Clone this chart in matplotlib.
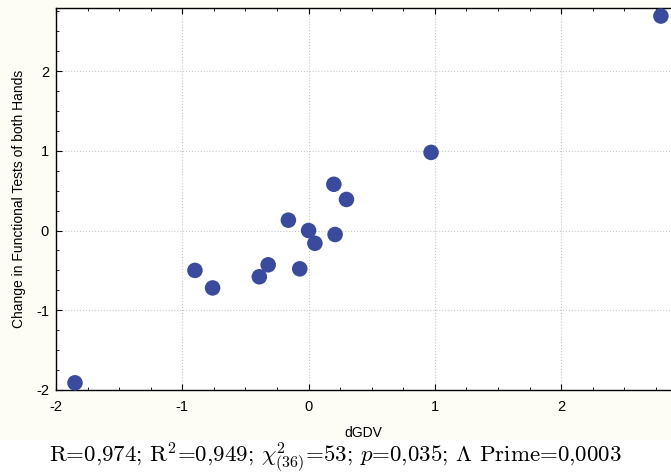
import matplotlib.pyplot as plt
from matplotlib.ticker import MultipleLocator
from matplotlib.patches import Rectangle

# data
dgdv = [2.79, 0.97, 0.20, 0.30, -0.16, 0.00, 0.05, 0.21, -0.90, -0.76, -0.39, -0.32, -0.07, -1.85]
change = [2.69, 0.98, 0.58, 0.39, 0.13, 0.00, -0.16, -0.05, -0.50, -0.72, -0.58, -0.43, -0.48, -1.91]

caption = r'R=0,974; R$^{\mathregular{2}}$=0,949; $\chi^{2}_{(36)}$=53; $p$=0,035; $\Lambda$ Prime=0,0003'

plt.rcParams['font.family'] = 'Liberation Sans'
plt.rcParams['mathtext.fontset'] = 'cm'
plt.rcParams['axes.unicode_minus'] = False

fig = plt.figure(figsize=(6.71, 4.76), dpi=100)
fig.patch.set_facecolor('white')
# cream panel behind the chart
fig.patches.append(Rectangle((0, 0.0756), 1, 1 - 0.0756, transform=fig.transFigure,
                             facecolor='#fdfcf5', edgecolor='none', zorder=-5))

ax = fig.add_axes([0.0835, 0.1807, 0.9165, 0.8023])
ax.set_facecolor('white')
ax.scatter(dgdv, change, s=125, color='#3a4a9c', edgecolors='none', zorder=3, clip_on=False)

ax.set_xlim(-2, 2.87)
ax.set_ylim(-2, 2.79)
ax.xaxis.set_major_locator(MultipleLocator(1))
ax.yaxis.set_major_locator(MultipleLocator(1))
ax.xaxis.set_minor_locator(MultipleLocator(0.25))
ax.yaxis.set_minor_locator(MultipleLocator(0.25))
ax.grid(True, which='major', linestyle=':', color='#c8c8c8', linewidth=0.8)

for side in ['top', 'bottom', 'left']:
    ax.spines[side].set_linewidth(1.0)
ax.spines['right'].set_visible(False)
ax.tick_params(which='both', direction='in', top=True, right=False, labelsize=10.5, color='black')
ax.tick_params(which='major', length=4, width=0.8)
ax.tick_params(which='minor', length=2, width=0.6)
ax.tick_params(axis='x', pad=7)
ax.tick_params(axis='y', pad=5)

ax.set_xlabel('dGDV', fontsize=10, labelpad=9)
ax.set_ylabel('Change in Functional Tests of both Hands', fontsize=10, labelpad=7)

fig.text(0.5, 0.027, caption, ha='center', va='baseline', fontsize=16.5, family='cmr10')

plt.savefig('out.png', dpi=100)
